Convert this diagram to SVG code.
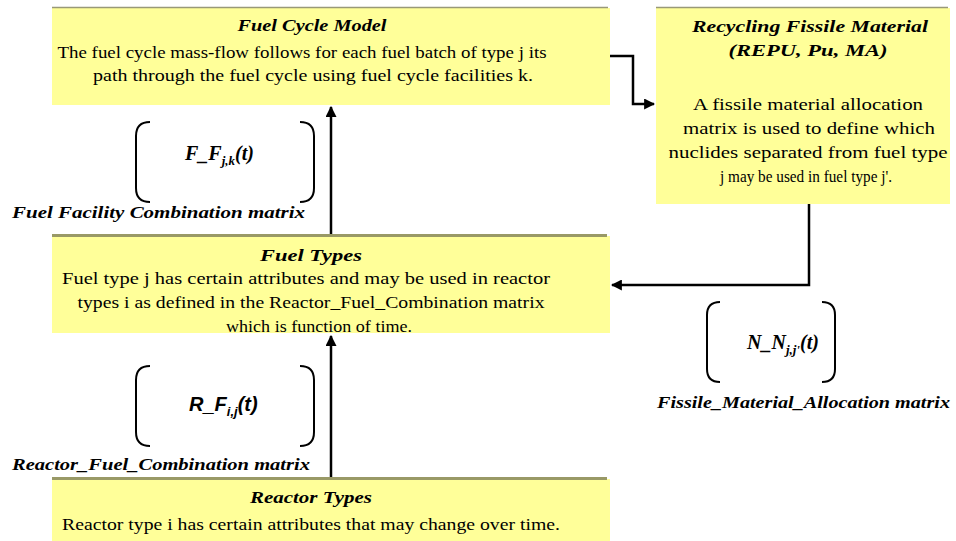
<svg xmlns="http://www.w3.org/2000/svg" width="956" height="541" viewBox="0 0 956 541">
<defs>
<style>
.box{fill:#FFFF99}
.topthin{stroke:#999977;stroke-width:1.5}
.topthick{stroke:#999966;stroke-width:3}
text{font-family:"Liberation Serif","Times New Roman","DejaVu Serif",serif}
.title{font-weight:bold;font-style:italic;font-size:17px;fill:#000;text-anchor:middle}
.body{font-size:17px;fill:#000;text-anchor:middle}
.lbl{font-weight:bold;font-style:italic;font-size:16px;fill:#000}
.mat{font-weight:bold;font-style:italic;font-size:20px;fill:#000}
.sans{font-family:"Liberation Sans",Arial,sans-serif}
.br{fill:none;stroke:#000;stroke-width:2}
.conn{fill:none;stroke:#000;stroke-width:2.5}
</style>
<marker id="ah" viewBox="0 0 10 10" refX="9" refY="5" markerWidth="4.4" markerHeight="4.4" orient="auto" markerUnits="strokeWidth">
<path d="M0,0 L10,5 L0,10 z" fill="#000"/>
</marker>
</defs>

<g id="connectors">
<line class="conn" x1="331" y1="235" x2="331" y2="107" marker-end="url(#ah)"/>
<line class="conn" x1="331" y1="477" x2="331" y2="336" marker-end="url(#ah)"/>
<polyline class="conn" points="608,56 633,56 633,104 654,104" marker-end="url(#ah)"/>
<polyline class="conn" points="809,204 809,285 612,285" marker-end="url(#ah)"/>
</g>

<g id="fuel-cycle-model">
<rect class="box" x="52" y="8" width="558" height="97"/>
<line class="topthin" x1="52" y1="7.5" x2="608" y2="7.5"/>
<text class="title" x="312" y="31" textLength="149" lengthAdjust="spacingAndGlyphs">Fuel Cycle Model</text>
<text class="body" x="302" y="58" textLength="489" lengthAdjust="spacingAndGlyphs">The fuel cycle mass-flow follows for each fuel batch of type j its</text>
<text class="body" x="313" y="81" textLength="440" lengthAdjust="spacingAndGlyphs">path through the fuel cycle using fuel cycle facilities k.</text>
</g>

<g id="recycling-fissile-material">
<rect class="box" x="656" y="8" width="294" height="196"/>
<line class="topthin" x1="656" y1="7.5" x2="948" y2="7.5"/>
<text class="title" x="810" y="32" textLength="236" lengthAdjust="spacingAndGlyphs">Recycling Fissile Material</text>
<text class="title" x="808" y="56" textLength="159" lengthAdjust="spacingAndGlyphs">(REPU, Pu, MA)</text>
<text class="body" x="808" y="110" textLength="230" lengthAdjust="spacingAndGlyphs">A fissile material allocation</text>
<text class="body" x="809" y="134" textLength="252" lengthAdjust="spacingAndGlyphs">matrix is used to define which</text>
<text class="body" x="808" y="158" textLength="279" lengthAdjust="spacingAndGlyphs">nuclides separated from fuel type</text>
<text class="body" x="806" y="182" textLength="172" lengthAdjust="spacingAndGlyphs">j may be used in fuel type j'.</text>
</g>

<g id="fuel-facility-matrix">
<path class="br" d="M150,122 Q136,122 136,136 V188 Q136,202 150,202"/>
<path class="br" d="M300,122 Q314,122 314,136 V188 Q314,202 300,202"/>
<text class="mat" x="185" y="160">F_F<tspan font-size="13" dy="5">j,k</tspan><tspan dy="-5">(t)</tspan></text>
<text class="lbl" x="12" y="218" textLength="293" lengthAdjust="spacingAndGlyphs">Fuel Facility  Combination matrix</text>
</g>

<g id="fuel-types">
<rect class="box" x="52" y="236" width="558" height="97"/>
<line class="topthick" x1="52" y1="235.5" x2="607" y2="235.5"/>
<text class="title" x="311" y="261" textLength="102" lengthAdjust="spacingAndGlyphs">Fuel Types</text>
<text class="body" x="306" y="284" textLength="488" lengthAdjust="spacingAndGlyphs">Fuel type j has certain attributes and may be used in reactor</text>
<text class="body" x="311" y="308" textLength="467" lengthAdjust="spacingAndGlyphs">types i as defined in the Reactor_Fuel_Combination matrix</text>
<text class="body" x="319" y="332" textLength="186" lengthAdjust="spacingAndGlyphs">which is function of time.</text>
</g>

<g id="fissile-allocation-matrix">
<path class="br" d="M720,302 Q707,302 707,315 V369 Q707,382 720,382"/>
<path class="br" d="M822,302 Q835,302 835,315 V369 Q835,382 822,382"/>
<text class="mat" x="747" y="349">N_N<tspan font-size="13" dy="5">j,j'</tspan><tspan dy="-5">(t)</tspan></text>
<text class="lbl" x="657" y="408" textLength="293" lengthAdjust="spacingAndGlyphs">Fissile_Material_Allocation matrix</text>
</g>

<g id="reactor-fuel-matrix">
<path class="br" d="M150,366 Q136,366 136,380 V432 Q136,446 150,446"/>
<path class="br" d="M300,366 Q314,366 314,380 V432 Q314,446 300,446"/>
<text class="mat sans" x="189" y="411">R_F<tspan font-size="13" dy="5">i,j</tspan><tspan dy="-5">(t)</tspan></text>
<text class="lbl" x="12" y="470" textLength="298" lengthAdjust="spacingAndGlyphs">Reactor_Fuel_Combination matrix</text>
</g>

<g id="reactor-types">
<rect class="box" x="52" y="479" width="558" height="62"/>
<line class="topthick" x1="52" y1="478.5" x2="607" y2="478.5"/>
<text class="title" x="311" y="503" textLength="122" lengthAdjust="spacingAndGlyphs">Reactor Types</text>
<text class="body" x="311" y="530" textLength="498" lengthAdjust="spacingAndGlyphs">Reactor type i has certain attributes that may change over time.</text>
</g>
</svg>
